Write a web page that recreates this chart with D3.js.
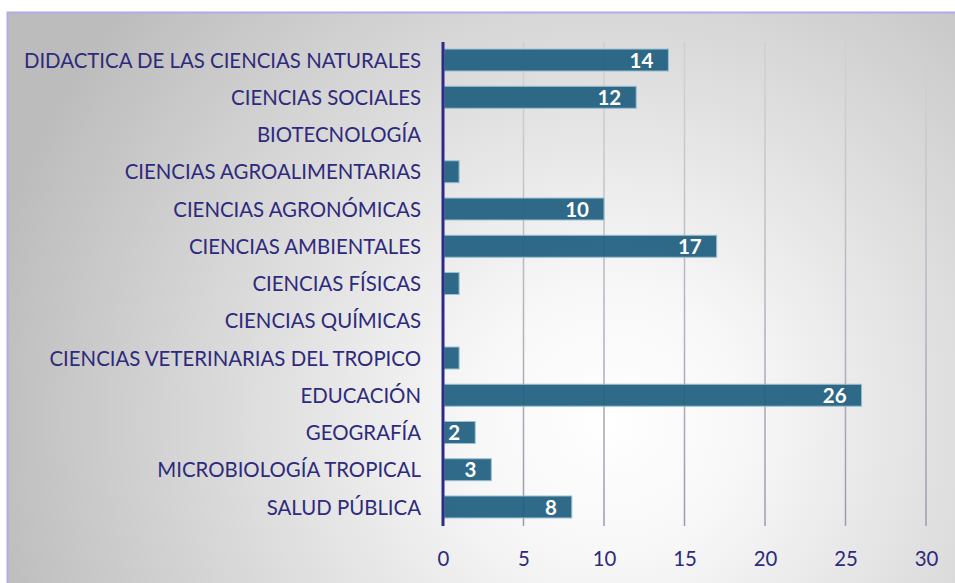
<!DOCTYPE html>
<html>
<head>
<meta charset="utf-8">
<script src="https://cdn.jsdelivr.net/npm/d3@7"></script>
<style>
  body { margin: 0; background: #fff; }
  svg { display: block; }
</style>
</head>
<body>
<svg width="955" height="583"></svg>
<script>
const categories = [
  "DIDACTICA DE LAS CIENCIAS NATURALES",
  "CIENCIAS SOCIALES",
  "BIOTECNOLOGÍA",
  "CIENCIAS AGROALIMENTARIAS",
  "CIENCIAS AGRONÓMICAS",
  "CIENCIAS AMBIENTALES",
  "CIENCIAS FÍSICAS",
  "CIENCIAS QUÍMICAS",
  "CIENCIAS VETERINARIAS DEL TROPICO",
  "EDUCACIÓN",
  "GEOGRAFÍA",
  "MICROBIOLOGÍA TROPICAL",
  "SALUD PÚBLICA"
];
const values = [14, 12, 0, 1, 10, 17, 1, 0, 1, 26, 2, 3, 8];
const ticks = [0, 5, 10, 15, 20, 25, 30];

const svg = d3.select("svg");
const margin = {top: 42, right: 29, bottom: 57, left: 443};
const width = +svg.attr("width") - margin.left - margin.right;
const height = +svg.attr("height") - margin.top - margin.bottom;

const data = categories.map((c, i) => ({name: c, value: values[i]}));
const font = "Lato, 'Open Sans', sans-serif";

const defs = svg.append("defs");
const bg = defs.append("radialGradient")
  .attr("id", "bg")
  .attr("gradientUnits", "userSpaceOnUse")
  .attr("cx", 610).attr("cy", 420).attr("r", 640);
bg.append("stop").attr("offset", "0%").attr("stop-color", "#ffffff");
bg.append("stop").attr("offset", "22%").attr("stop-color", "#f7f7f7");
bg.append("stop").attr("offset", "100%").attr("stop-color", "#bcbcbc");

const gridGrad = defs.append("linearGradient")
  .attr("id", "grid")
  .attr("gradientUnits", "userSpaceOnUse")
  .attr("x1", 0).attr("y1", margin.top).attr("x2", 0).attr("y2", margin.top + height);
gridGrad.append("stop").attr("offset", "0%").attr("stop-color", "#cfcfd3");
gridGrad.append("stop").attr("offset", "100%").attr("stop-color", "#9896a8");

// frame
svg.append("rect")
  .attr("x", 7.5).attr("y", 12.5)
  .attr("width", 960).attr("height", 590)
  .attr("fill", "url(#bg)")
  .attr("stroke", "#b2aae6")
  .attr("stroke-width", 2);

const g = svg.append("g").attr("transform", `translate(${margin.left},${margin.top})`);

const x = d3.scaleLinear().domain([0, 30]).range([0, width]);
const y = d3.scaleBand().domain(categories).range([-0.6, 483.6])
  .paddingInner(0.41).paddingOuter(0.205);

// gridlines
g.selectAll(".grid")
  .data(ticks.slice(1))
  .enter()
  .append("line")
  .attr("x1", d => x(d)).attr("x2", d => x(d))
  .attr("y1", 0).attr("y2", height)
  .attr("stroke", "url(#grid)")
  .attr("stroke-width", 1.5);

// bars
g.selectAll(".bar")
  .data(data.filter(d => d.value > 0))
  .enter()
  .append("rect")
  .attr("x", 1)
  .attr("y", d => y(d.name))
  .attr("width", d => x(d.value) - 1)
  .attr("height", y.bandwidth())
  .attr("fill", "#1f5f80")
  .attr("fill-opacity", 0.93)
  .attr("stroke", "#9cc0d2")
  .attr("stroke-width", 1);

// value labels
g.selectAll(".val")
  .data(data.filter(d => d.value > 1))
  .enter()
  .append("text")
  .attr("x", d => x(d.value) - 15)
  .attr("y", d => y(d.name) + y.bandwidth() / 2)
  .attr("dy", "0.37em")
  .attr("text-anchor", "end")
  .attr("fill", "#ffffff")
  .attr("font-family", font)
  .attr("font-weight", "bold")
  .attr("font-size", 20.5)
  .text(d => d.value);

// category labels
g.selectAll(".cat")
  .data(categories)
  .enter()
  .append("text")
  .attr("x", -22)
  .attr("y", d => y(d) + y.bandwidth() / 2)
  .attr("dy", "0.37em")
  .attr("text-anchor", "end")
  .attr("fill", "#2e2a7c")
  .attr("font-family", font)
  .attr("font-size", 20.4)
  .text(d => d);

// x tick labels
const xAxis = d3.axisBottom(x).tickValues(ticks).tickSize(0).tickPadding(26);
const ax = g.append("g")
  .attr("transform", `translate(0,${height})`)
  .call(xAxis);
ax.select(".domain").remove();
ax.selectAll("text")
  .attr("fill", "#2e2a7c")
  .attr("font-family", font)
  .attr("font-size", 20.4);

// y axis line
g.append("line")
  .attr("x1", 0).attr("x2", 0)
  .attr("y1", 0).attr("y2", height)
  .attr("stroke", "#2e2a87")
  .attr("stroke-width", 3);
</script>
</body>
</html>
